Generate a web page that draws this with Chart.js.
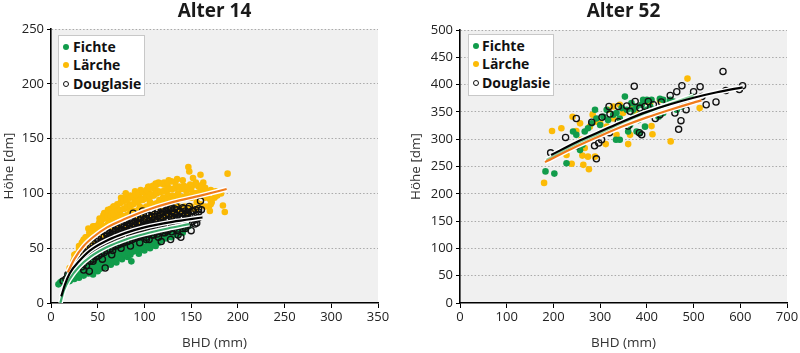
<!DOCTYPE html>
<html>
<head>
<meta charset="utf-8">
<script src="https://cdn.jsdelivr.net/npm/chart.js@4/dist/chart.umd.min.js"></script>
<style>
html,body{margin:0;padding:0;background:#fff;width:800px;height:353px;overflow:hidden;font-family:"Open Sans",sans-serif;}
.wrap{position:absolute;top:0;width:400px;height:353px;}
.legend{position:absolute;background:#fff;border:1px solid #c8c8c8;box-sizing:border-box;font:bold 14px "Open Sans",sans-serif;color:#111;}
.legend .row{position:absolute;left:0;height:18px;line-height:18px;white-space:nowrap;}
.legend .dot{position:absolute;top:6px;width:6px;height:6px;border-radius:50%;box-sizing:border-box;}
.legend .lab{position:absolute;top:0;}
</style>
</head>
<body>
<div class="wrap" style="left:0"><canvas id="c14" width="400" height="353"></canvas>
  <div class="legend" id="lg14" style="left:58px;top:35px;width:87px;height:61px;"></div></div>
<div class="wrap" style="left:400px"><canvas id="c52" width="400" height="353"></canvas>
  <div class="legend" id="lg52" style="left:68px;top:34px;width:86px;height:62px;"></div></div>
<script>
// ---------- DATA ----------
const seriesNames = ["Fichte", "Lärche", "Douglasie"];
const titles = ["Alter 14", "Alter 52"];
const xTitle = "BHD (mm)";
const yTitle = "Höhe [dm]";
const xTicks14 = [0, 50, 100, 150, 200, 250, 300, 350];
const yTicks14 = [0, 50, 100, 150, 200, 250];
const xTicks52 = [0, 100, 200, 300, 400, 500, 600, 700];
const yTicks52 = [0, 50, 100, 150, 200, 250, 300, 350, 400, 450, 500];

// Alter 14 – scatter points [BHD, Höhe]
const fichte14 = [[8,17],[10,19],[12,20],[14,18],[16,22],[18,25],[20,27],[22,23],[24,29],[26,26],[28,31],[30,27],[32,33],[34,29],[36,35],[38,31],[40,27],[42,37],[44,33],[46,29],[48,39],[50,35],[52,31],[54,41],[56,37],[58,33],[60,43],[62,39],[64,35],[66,45],[68,41],[70,37],[72,47],[74,43],[76,40],[78,49],[80,45],[82,42],[84,51],[86,38],[88,47],[90,53],[92,49],[94,45],[96,55],[98,51],[100,48],[102,57],[104,53],[106,50],[108,59],[110,55],[112,52],[115,60],[118,57],[120,62],[123,59],[126,63],[129,60],[132,65],[135,62],[138,66],[141,64],[144,68],[147,70],[20,20],[25,22],[30,23],[35,25],[40,31],[45,26],[50,29],[55,32],[60,36],[65,38],[70,41],[75,44],[85,44],[95,49],[105,54],[115,55],[125,60],[55,45],[65,50],[75,52],[85,58],[95,60],[105,64],[40,42],[30,38],[48,44],[110,66],[120,68],[130,70],
  [20,21],[20,24],[23,22],[23,26],[27,25],[27,29],[27,33],[31,26],[31,30],[31,35],[35,27],[35,31],[35,37],[39,28],[39,33],[39,38],[43,29],[43,35],[43,40],[47,31],[47,36],[47,42],[51,32],[51,38],[51,44],[55,34],[55,39],[55,46],[59,36],[59,41],[59,48],[63,37],[63,43],[63,49],[67,39],[67,45],[67,51],[71,41],[71,47],[71,53],[75,42],[75,48],[75,54],[79,44],[79,50],[79,56],[83,46],[83,52],[83,57],[87,47],[87,53],[87,58],[91,48],[91,54],[91,59],[95,50],[95,55],[95,61],[99,51],[99,57],[99,62],[103,52],[103,58],[107,54],[107,60],[111,56],[111,61],[115,57],[115,62],[119,59],[119,64],[123,60],[123,65],[127,62],[127,66],[131,63],[131,67],[135,64],[135,68],[139,66],[139,69]];
const laerche14 = [[20,32],[24,38],[27,45],[30,50],[33,55],[35,47],[38,60],[40,68],[42,56],[45,63],[47,70],[50,66],[52,74],[55,62],[57,78],[58,70],[60,82],[62,75],[64,68],[66,85],[68,78],[70,88],[72,72],[74,82],[75,92],[77,76],[79,86],[80,95],[82,80],[84,90],[85,98],[87,72],[88,84],[90,94],[92,100],[93,78],[95,88],[96,103],[98,82],[100,95],[101,100],[103,86],[105,106],[106,92],[108,80],[110,98],[111,104],[113,88],[115,110],[116,94],[118,84],[120,102],[121,108],[123,90],[125,98],[126,112],[128,86],[130,104],[131,95],[133,110],[135,90],[136,100],[138,106],[140,95],[141,112],[143,88],[145,102],[147,124],[148,120],[149,108],[150,96],[152,114],[154,100],[156,92],[158,106],[160,117],[161,98],[163,110],[165,96],[167,100],[169,88],[170,84],[172,92],[175,96],[178,98],[182,100],[184,89],[186,83],[189,118],[40,45],[48,50],[55,40],[60,45],[65,55],[70,50],[75,60],[80,55],[85,65],[90,60],[95,70],[100,66],[105,75],[110,72],[115,80],[120,78],[125,82],[130,80],[135,84],[140,86],[145,82],[150,88],[155,85],[62,38],[68,42],[78,45],[45,70],[52,77],[56,80],[62,84],[67,88],[70,80],[75,96],[80,100],[85,84],[90,102],[95,96],[104,106],[105,100],[112,109],[115,102],[120,96],[125,106],[130,98],[135,113],[140,104],[145,96],[150,104],[155,110],[160,102],[165,105],[170,95],[55,52],[45,55],[38,52],[35,58],[28,40],[32,44],
  [25,40],[25,44],[30,46],[30,52],[34,52],[34,56],[37,55],[37,60],[41,58],[41,64],[44,61],[44,67],[48,64],[48,70],[51,66],[51,72],[54,68],[54,75],[57,70],[57,77],[57,82],[61,72],[61,79],[61,85],[64,73],[64,80],[64,86],[67,75],[67,82],[67,88],[71,76],[71,84],[71,90],[74,77],[74,85],[74,91],[78,79],[78,86],[78,93],[81,80],[81,88],[81,94],[85,82],[85,89],[85,96],[88,83],[88,90],[88,97],[91,84],[91,92],[91,99],[94,85],[94,93],[94,100],[98,86],[98,94],[98,101],[102,88],[102,96],[102,103],[106,89],[106,97],[106,105],[109,90],[109,99],[109,107],[113,91],[113,100],[113,108],[117,92],[117,101],[117,109],[121,93],[121,102],[121,110],[125,94],[125,103],[125,110],[129,95],[129,104],[129,111],[133,96],[133,105],[137,96],[137,106],[142,97],[142,107],[146,98],[146,106],[151,99],[151,107],[156,100],[156,108],[161,101],[161,107],[166,102],[171,103],[171,90],[176,102],
  [45,48],[52,52],[58,56],[64,60],[72,64],[82,68],[92,72],[102,76],[112,78],[122,80],[132,82],[142,84],[152,86],[160,90],[165,88]];
const douglasie14 = [[13,20],[18,26],[22,30],[26,35],[30,38],[33,33],[36,42],[38,40],[40,45],[41,29],[43,48],[45,44],[47,50],[50,47],[52,53],[54,50],[56,56],[58,32],[58,52],[60,58],[62,54],[64,60],[66,48],[68,62],[70,58],[72,64],[74,55],[76,66],[78,60],[80,68],[82,56],[84,70],[86,64],[88,72],[90,60],[92,68],[94,74],[96,62],[98,70],[100,76],[102,58],[104,72],[106,66],[108,78],[110,62],[112,74],[114,68],[116,80],[118,56],[120,72],[122,64],[124,82],[126,76],[128,58],[130,84],[132,70],[134,78],[136,62],[138,84],[139,60],[140,74],[142,86],[144,68],[146,80],[148,88],[150,66],[152,84],[154,72],[156,73],[158,86],[160,93],[161,85],[65,44],[75,50],[85,52],[95,55],[105,58],[115,60],[125,66],[135,70],[145,75],[55,40],[45,38],[35,30],[88,82],[98,84],[108,84],[118,86],[128,86],[134,88],[70,70],[80,74],[90,78],[60,64],[50,58],
  [16,22],[20,25],[24,32],[28,34],[31,36],[33,40],
  [35,36],[35,40],[35,44],[35,47],[38,34],[38,42],[38,46],[38,50],[42,38],[42,44],[42,48],[42,52],[45,40],[45,46],[45,50],[45,54],[48,42],[48,45],[48,52],[48,56],[51,43],[51,48],[51,54],[51,58],[54,45],[54,52],[54,56],[54,60],[54,47],[57,46],[57,50],[57,55],[57,61],[60,48],[60,53],[60,57],[60,62],[60,66],[63,49],[63,55],[63,59],[63,64],[63,67],[66,51],[66,54],[66,58],[66,63],[66,68],[69,52],[69,57],[69,61],[69,66],[69,70],[72,53],[72,59],[72,62],[72,68],[72,71],[75,54],[75,57],[75,63],[75,67],[75,72],[78,55],[78,60],[78,65],[78,69],[78,74],[81,56],[81,62],[81,66],[81,71],[81,75],[84,57],[84,60],[84,64],[84,68],[84,73],[84,77],[87,58],[87,63],[87,67],[87,70],[87,75],[90,59],[90,62],[90,66],[90,71],[90,74],[90,79],[93,60],[93,65],[93,69],[93,72],[93,77],[96,61],[96,64],[96,68],[96,73],[96,78],[96,81],[99,62],[99,66],[99,70],[99,74],[99,80],[102,60],[102,65],[102,69],[102,72],[102,77],[102,82],[105,63],[105,67],[105,71],[105,75],[105,80],[108,62],[108,66],[108,70],[108,74],[108,79],[108,83],[111,64],[111,68],[111,72],[111,76],[111,81],[114,63],[114,67],[114,71],[114,75],[114,79],[114,84],[117,65],[117,69],[117,73],[117,77],[117,82],[120,64],[120,68],[120,74],[120,78],[120,83],[120,86],[123,66],[123,70],[123,75],[123,80],[123,84],[126,67],[126,72],[126,81],[126,85],[129,65],[129,70],[129,74],[129,79],[129,83],[129,87],[132,68],[132,73],[132,77],[132,82],[132,86],[135,66],[135,71],[135,76],[135,80],[135,85],[138,70],[138,74],[138,78],[138,83],[141,68],[141,72],[141,77],[141,82],[141,87],[144,70],[144,75],[144,80],[144,84],[147,72],[147,77],[147,82],[147,86],[151,74],[151,79],[151,84],[155,76],[155,80],[155,85],[158,78],[158,83]];
// Alter 14 – fitted curves [BHD, Höhe]
const fitFichte14 = [[10,0],[14,12],[20,22],[30,33],[42,42],[60,51],[80,58],[100,63],[125,68],[148,72]];
const fitLaerche14 = [[18,28],[25,40],[35,52],[45,60],[60,69],[80,77],[100,84],[130,92],[160,98],[188,104]];
const fitDouglasie14 = [[11,6],[15,17],[20,27],[30,38],[42,48],[60,57],[80,64],[100,69],[130,74],[162,78]];

// Alter 52 – scatter points [BHD, Höhe]
const fichte52 = [[183,241],[202,237],[228,256],[249,308],[257,280],[262,290],[267,314],[292,338],[300,326],[317,335],[328,345],[334,299],[342,299],[353,378],[357,354],[364,326],[371,354],[382,335],[392,372],[396,323],[400,354],[410,372],[421,348],[428,374],[435,372],[442,363],[450,372],[457,369],[464,354],[475,360],[485,369],[496,378],[371,341],[385,345],[378,360],[314,354],[307,341],[289,354],[335,348],[342,338],[407,360],[414,354],[282,329],[242,314],[274,320],[360,314],[378,314],[385,311],[425,341],[435,348],[346,357],[367,366],[400,372],[389,363]];
const laerche52 = [[180,220],[197,315],[217,320],[228,271],[239,255],[241,341],[249,315],[257,329],[262,270],[264,253],[267,284],[274,268],[276,245],[278,323],[284,345],[289,268],[292,332],[312,291],[317,354],[328,360],[335,308],[342,363],[360,291],[364,308],[371,338],[396,369],[407,366],[410,324],[412,309],[451,296],[487,411],[513,357],[428,372],[328,338],[300,329],[378,348],[349,348],[314,323],[260,299],[371,360]];
const douglasie52 = [[194,275],[226,303],[249,338],[249,288],[282,331],[288,288],[292,264],[297,293],[303,299],[304,340],[319,360],[321,346],[320,312],[339,360],[357,361],[360,324],[373,397],[375,369],[384,312],[389,308],[396,360],[403,369],[407,345],[418,338],[428,345],[431,368],[450,380],[460,348],[464,387],[468,318],[473,334],[475,398],[484,354],[500,387],[514,396],[518,378],[527,363],[548,368],[563,424],[569,389],[598,391],[605,398],[371,335],[385,357],[339,332],[364,351],[414,363]];
// Alter 52 – fitted curves [BHD, Höhe]
const fitFichte52 = [[185,262],[250,292],[300,311],[350,331],[400,349],[450,365],[500,380]];
const fitLaerche52 = [[182,258],[250,287],[300,306],[350,324],[400,340],[450,354],[500,367],[517,371]];
const fitDouglasie52 = [[195,271],[250,295],[300,314],[350,333],[400,350],[450,364],[500,376],[550,386],[605,395]];

// ---------- STYLE ----------
const C_GREEN = "#119c4b", C_YELLOW = "#fcbb07", C_BLACK = "#111111";
const C_ORANGE = "#f07b1c";
const FONT = "'Open Sans', sans-serif";
const toXY = arr => arr.map(p => ({x: p[0], y: p[1]}));

const bgPlugin = {
  id: "plotBg",
  beforeDraw(chart) {
    const {ctx, chartArea: a} = chart;
    ctx.save();
    ctx.fillStyle = "#f0f0f0";
    ctx.fillRect(a.left, a.top, a.right - a.left, a.bottom - a.top);
    ctx.restore();
  }
};

function curveSets(pts, color) {
  const common = {type: "line", data: toXY(pts), showLine: true, pointRadius: 0, pointHoverRadius: 0,
    fill: false, cubicInterpolationMode: "monotone"};
  return [
    Object.assign({}, common, {borderColor: color, borderWidth: 2.2, order: 0}),
    Object.assign({}, common, {borderColor: "#ffffff", borderWidth: 5, order: 0.5})
  ];
}

function makeChart(id, cfg) {
  const datasets = [
    ...curveSets(cfg.fitL, C_ORANGE),
    ...curveSets(cfg.fitD, "#000000"),
    ...curveSets(cfg.fitF, cfg.fitFColor),
    {type: "scatter", label: seriesNames[2], data: toXY(cfg.d), pointRadius: 3.1, pointBorderWidth: 1.3,
      pointBackgroundColor: "rgba(255,255,255,0)", pointBorderColor: C_BLACK, order: 1},
    {type: "scatter", label: seriesNames[0], data: toXY(cfg.f), pointRadius: 3.3, pointBorderWidth: 0,
      pointBackgroundColor: C_GREEN, pointBorderColor: C_GREEN, order: 2},
    {type: "scatter", label: seriesNames[1], data: toXY(cfg.l), pointRadius: 3.3, pointBorderWidth: 0,
      pointBackgroundColor: C_YELLOW, pointBorderColor: C_YELLOW, order: 3}
  ];
  return new Chart(document.getElementById(id), {
    type: "scatter",
    data: {datasets},
    plugins: [bgPlugin],
    options: {
      responsive: false, animation: false, devicePixelRatio: 1,
      layout: {padding: {left: 0, right: cfg.padRight, top: 0, bottom: 0}},
      plugins: {
        legend: {display: false}, tooltip: {enabled: false},
        title: {display: true, text: cfg.title, fullSize: false, color: "#1a1a1a",
          font: {family: FONT, size: 19, weight: "bold", lineHeight: 1.2},
          padding: {top: 0.5, bottom: cfg.areaTop - 0.5 - 22.8}}
      },
      scales: {
        x: {
          type: "linear", min: 0, max: cfg.xTicks[cfg.xTicks.length - 1],
          afterBuildTicks: s => { s.ticks = cfg.xTicks.map(v => ({value: v})); },
          afterFit: s => { s.height = 50; },
          ticks: {color: "#222", font: {family: FONT, size: 13}, padding: 1, maxRotation: 0, autoSkip: false},
          grid: {drawOnChartArea: false, drawTicks: true, tickLength: 5, tickColor: "#000", tickWidth: 1},
          border: {display: true, color: "#000", width: 1.6},
          title: {display: true, text: xTitle, color: "#333", font: {family: FONT, size: 13.5, lineHeight: 1.2},
            padding: {top: 0, bottom: 1.5}}
        },
        y: {
          type: "linear", min: 0, max: cfg.yTicks[cfg.yTicks.length - 1],
          afterBuildTicks: s => { s.ticks = cfg.yTicks.map(v => ({value: v})); },
          afterFit: s => { s.width = cfg.yWidth; },
          ticks: {color: "#222", font: {family: FONT, size: 13}, padding: 3, autoSkip: false},
          grid: {drawOnChartArea: true, drawTicks: true, tickLength: 4, tickColor: "#000", tickWidth: 1,
            color: ctx => (ctx.tick && ctx.tick.value === 0) ? "rgba(0,0,0,0)" : "#a9a9a9", lineWidth: 1},
          border: {display: true, color: "#000", width: 1.6, dash: [1.5, 2]},
          title: {display: true, text: yTitle, color: "#333", font: {family: FONT, size: 13.5, lineHeight: 1.2},
            padding: {top: cfg.yTitlePad, bottom: 0}}
        }
      }
    }
  });
}

makeChart("c14", {title: titles[0], f: fichte14, l: laerche14, d: douglasie14,
  fitF: fitFichte14, fitL: fitLaerche14, fitD: fitDouglasie14, fitFColor: "#3aa96b",
  xTicks: xTicks14, yTicks: yTicks14, padRight: 22, yWidth: 51, areaTop: 29, yTitlePad: 1.2});
makeChart("c52", {title: titles[1], f: fichte52, l: laerche52, d: douglasie52,
  fitF: fitFichte52, fitL: fitLaerche52, fitD: fitDouglasie52, fitFColor: "#8fd1a2",
  xTicks: xTicks52, yTicks: yTicks52, padRight: 13, yWidth: 60, areaTop: 30, yTitlePad: 8.5});

// ---------- LEGENDS (HTML, real text) ----------
function buildLegend(id, dotLeft, textLeft) {
  const el = document.getElementById(id);
  const styles = [
    {bg: C_GREEN, border: "none"},
    {bg: C_YELLOW, border: "none"},
    {bg: "transparent", border: "1.2px solid " + C_BLACK}
  ];
  const tops = [1.5, 20, 38.5];
  seriesNames.forEach((n, i) => {
    const row = document.createElement("div");
    row.className = "row";
    row.style.top = tops[i] + "px";
    const dot = document.createElement("span");
    dot.className = "dot";
    dot.style.left = dotLeft + "px";
    dot.style.background = styles[i].bg;
    dot.style.border = styles[i].border;
    const lab = document.createElement("span");
    lab.className = "lab";
    lab.style.left = textLeft + "px";
    lab.textContent = n;
    row.appendChild(dot); row.appendChild(lab);
    el.appendChild(row);
  });
}
buildLegend("lg14", 4, 14);
buildLegend("lg52", 4, 13);
</script>
</body>
</html>
